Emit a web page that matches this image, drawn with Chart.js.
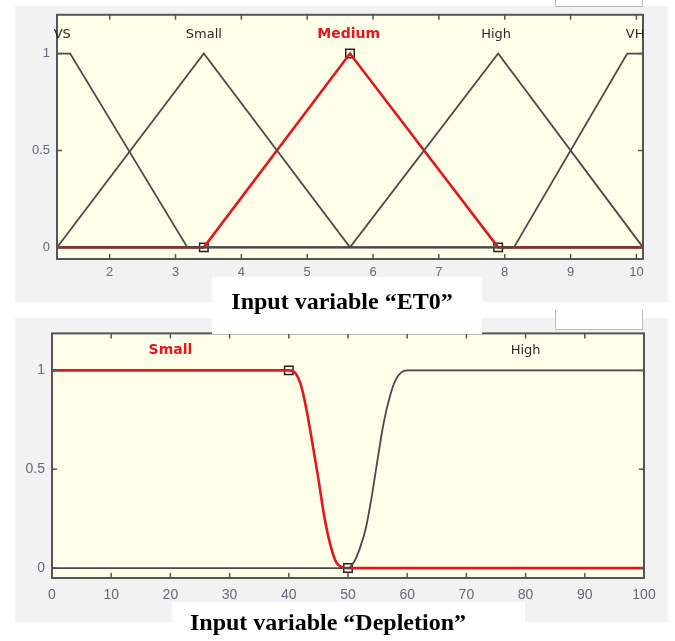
<!DOCTYPE html>
<html>
<head>
<meta charset="utf-8">
<script src="https://cdn.jsdelivr.net/npm/chart.js@4.4.0/dist/chart.umd.min.js"></script>
<style>
  body { margin: 0; background: #fff; }
  #page { position: relative; width: 675px; height: 641px; overflow: hidden; background: #fff; }
  .panel { position: absolute; background: #f2f2f2; }
  .box { position: absolute; background: #fff; }
  .tab { position: absolute; background: #fff; border: 1px solid #bbb; border-top: none; }
  .caption { position: absolute; font-family: "Liberation Serif", "Times New Roman", serif; font-weight: bold;
             font-size: 24px; line-height: 24px; color: #000; white-space: nowrap; text-align: center; }
  canvas { position: absolute; left: 0; }
</style>
</head>
<body>
<div id="page">
  <div class="panel" style="left:15px;top:6px;width:653px;height:296px"></div>
  <div class="panel" style="left:15px;top:318px;width:653px;height:304px"></div>
  <div class="tab" style="left:555px;top:0;width:86px;height:6px"></div>
  <div class="tab" style="left:555px;top:310px;width:86px;height:19px"></div>

  <canvas id="et0" width="675" height="300" style="top:0"></canvas>
  <canvas id="depl" width="675" height="300" style="top:318px"></canvas>

  <div class="box" style="left:212px;top:277px;width:270px;height:57px"></div>
  <div class="box" style="left:172px;top:602px;width:353px;height:39px"></div>
  <div class="caption" style="left:142px;top:289px;width:400px">Input variable “ET0”</div>
  <div class="caption" style="left:128px;top:610px;width:400px">Input variable “Depletion”</div>
</div>

<script>
// ---- ET0 membership functions (x, degree) ----
const etTicks = [2, 3, 4, 5, 6, 7, 8, 9, 10];
const etVS     = [[1.2, 1], [1.4, 1], [3.18, 0], [10.1, 0]];
const etSmall  = [[1.2, 0], [3.43, 1], [5.65, 0], [10.1, 0]];
const etMedium = [[1.2, 0], [3.43, 0], [5.65, 1], [7.9, 0], [10.1, 0]];
const etHigh   = [[1.2, 0], [5.65, 0], [7.9, 1], [10.1, 0]];
const etVH     = [[1.2, 0], [8.14, 0], [9.86, 1], [10.1, 1]];
const etMarks  = [[3.43, 0], [5.65, 1], [7.9, 0]];
const etNames  = ['VS', 'Small', 'Medium', 'High', 'VH'];
const etNameX  = [1.28, 3.43, 5.63, 7.87, 9.98];

// ---- Depletion membership functions ----
const depTicks = [0, 10, 20, 30, 40, 50, 60, 70, 80, 90, 100];
const depSmall = [[0, 1], [40, 1], [41, 0.99], [42, 0.93], [43, 0.8], [44, 0.63], [45, 0.45],
                  [46, 0.26], [47, 0.12], [48, 0.03], [49, 0.005], [50, 0], [100, 0]];
const depHigh  = [[0, 0], [50, 0], [51, 0.03], [52, 0.1], [53, 0.2], [54, 0.36], [55, 0.55],
                  [56, 0.73], [57, 0.86], [58, 0.95], [59, 0.99], [60, 1], [100, 1]];
const depMarks = [[40, 1], [50, 0]];
const depNames = ['Small', 'High'];
const depNameX = [20, 80];

const yTicks = [0, 0.5, 1];
const labelY = 1.1;

const GREY = '#4a4a4a';
const RED = '#e3161b';

const toXY = arr => arr.map(([x, y]) => ({ x, y }));

const framePlugin = {
  id: 'frame',
  beforeDraw(chart) {
    const { ctx, chartArea: a } = chart;
    ctx.save();
    ctx.fillStyle = '#fffee9';
    ctx.fillRect(a.left, a.top, a.right - a.left, a.bottom - a.top);
    ctx.restore();
  },
  afterDraw(chart, args, opts) {
    const { ctx, chartArea: a, scales } = chart;
    ctx.save();
    ctx.strokeStyle = '#555';
    ctx.lineWidth = 2;
    ctx.strokeRect(a.left, a.top, a.right - a.left, a.bottom - a.top);
    // inward tick marks
    ctx.lineWidth = 1.5;
    ctx.beginPath();
    scales.x.ticks.forEach(t => {
      const px = scales.x.getPixelForValue(t.value);
      ctx.moveTo(px, a.top); ctx.lineTo(px, a.top + 5);
      ctx.moveTo(px, a.bottom); ctx.lineTo(px, a.bottom - 5);
    });
    scales.y.ticks.forEach(t => {
      const py = scales.y.getPixelForValue(t.value);
      ctx.moveTo(a.left, py); ctx.lineTo(a.left + 5, py);
      ctx.moveTo(a.right, py); ctx.lineTo(a.right - 5, py);
    });
    ctx.stroke();
    // membership function names
    ctx.textAlign = 'center';
    ctx.textBaseline = 'middle';
    opts.names.forEach((n, i) => {
      const hot = i === opts.active;
      ctx.font = (hot ? 'bold 14px' : '13px') + ' "DejaVu Sans", sans-serif';
      ctx.fillStyle = hot ? RED : '#2a2a2a';
      ctx.fillText(n, scales.x.getPixelForValue(opts.nameX[i]), scales.y.getPixelForValue(labelY));
    });
    ctx.restore();
  }
};

function lineSet(points, color, width, smooth) {
  return {
    data: toXY(points),
    borderColor: color,
    borderWidth: width,
    pointRadius: 0,
    fill: false,
    tension: 0,
    cubicInterpolationMode: smooth ? 'monotone' : 'default'
  };
}

function markSet(points) {
  return {
    data: toXY(points),
    showLine: false,
    pointStyle: 'rect',
    pointRadius: 6,
    pointBorderWidth: 1.5,
    pointBorderColor: '#222',
    pointBackgroundColor: 'rgba(0,0,0,0)'
  };
}

function makeChart(id, cfg) {
  return new Chart(document.getElementById(id), {
    type: 'line',
    data: { datasets: cfg.datasets },
    options: {
      responsive: false,
      animation: false,
      events: [],
      layout: { padding: cfg.padding },
      plugins: {
        legend: { display: false },
        tooltip: { enabled: false },
        frame: { names: cfg.names, nameX: cfg.nameX, active: cfg.active }
      },
      scales: {
        x: {
          type: 'linear',
          min: cfg.xMin,
          max: cfg.xMax,
          grid: { display: false, drawTicks: false },
          border: { display: false },
          ticks: { color: '#646a78', font: { family: 'Liberation Sans', size: cfg.fontSize },
                   padding: cfg.xPad, autoSkip: false, maxRotation: 0 },
          afterBuildTicks: s => { s.ticks = cfg.xTicks.map(v => ({ value: v })); },
          afterFit: s => { s.height = cfg.xAxisH; }
        },
        y: {
          min: cfg.yMin,
          max: cfg.yMax,
          grid: { display: false, drawTicks: false },
          border: { display: false },
          ticks: { color: '#646a78', font: { family: 'Liberation Sans', size: cfg.fontSize },
                   padding: 7, callback: v => String(v) },
          afterBuildTicks: s => { s.ticks = yTicks.map(v => ({ value: v })); },
          afterFit: s => { s.width = cfg.yAxisW; }
        }
      }
    },
    plugins: [framePlugin]
  });
}

makeChart('et0', {
  datasets: [
    lineSet(etVS, GREY, 1.8),
    lineSet(etSmall, GREY, 1.8),
    lineSet(etHigh, GREY, 1.8),
    lineSet(etVH, GREY, 1.8),
    lineSet(etMedium, RED, 2.6),
    markSet(etMarks)
  ],
  names: etNames, nameX: etNameX, active: 2,
  xMin: 1.2, xMax: 10.1, xTicks: etTicks,
  yMin: -0.06, yMax: 1.2,
  padding: { left: 0, top: 12, right: 32, bottom: 0 },
  xAxisH: 41, yAxisW: 57, xPad: 6, fontSize: 13
});

makeChart('depl', {
  datasets: [
    lineSet(depHigh, GREY, 1.8, true),
    lineSet(depSmall, RED, 2.6, true),
    markSet(depMarks)
  ],
  names: depNames, nameX: depNameX, active: 0,
  xMin: 0, xMax: 100, xTicks: depTicks,
  yMin: -0.05, yMax: 1.187,
  padding: { left: 0, top: 14, right: 31, bottom: 0 },
  xAxisH: 40, yAxisW: 52, xPad: 9, fontSize: 14
});
</script>
</body>
</html>
